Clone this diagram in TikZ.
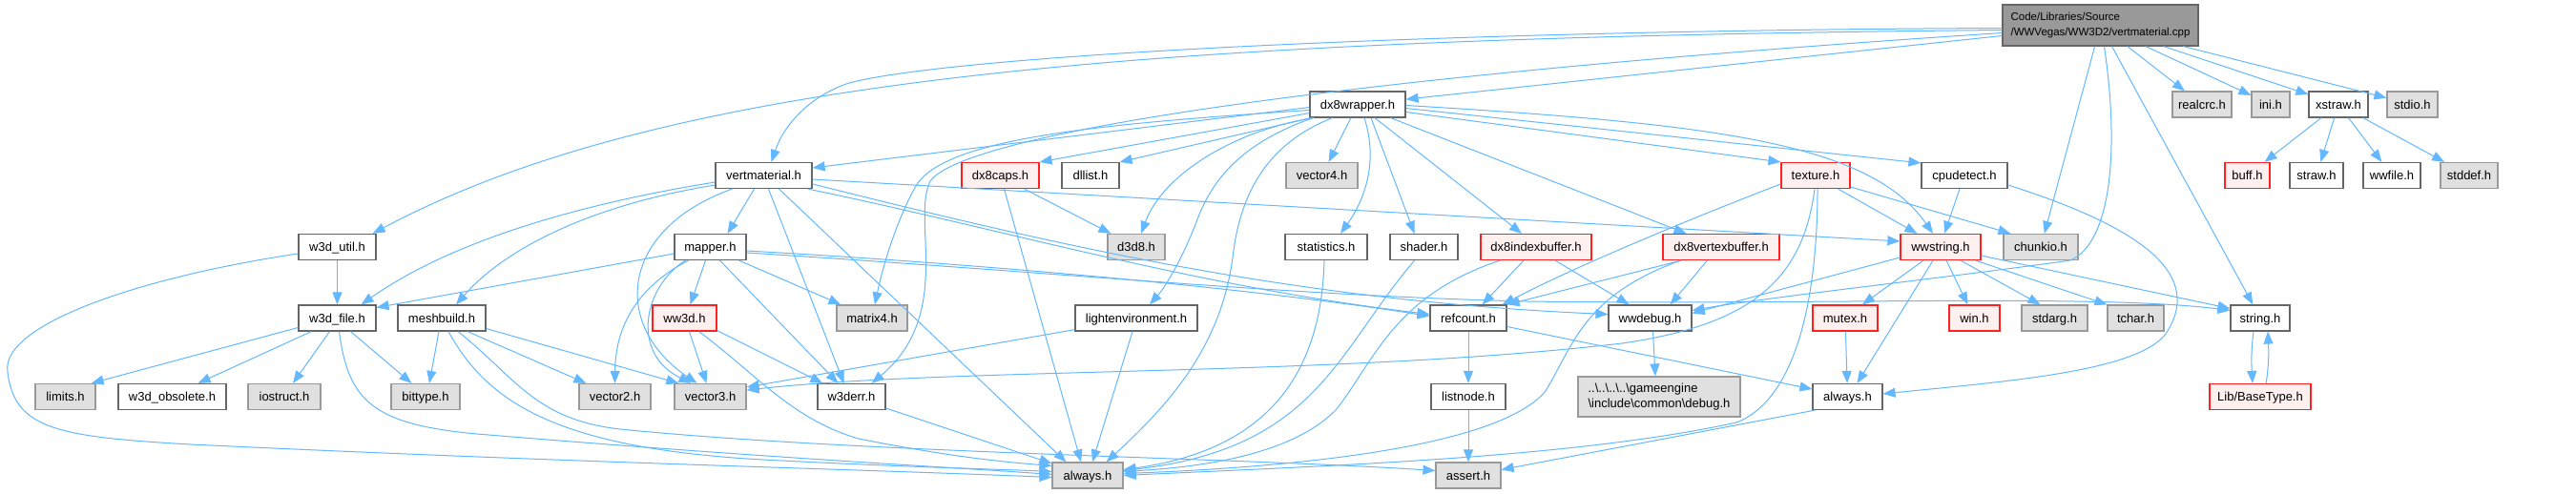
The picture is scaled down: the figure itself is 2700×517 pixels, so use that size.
\documentclass[tikz,border=0pt]{standalone}
\usepackage{fontspec}
\setmainfont{Liberation Sans}
\usetikzlibrary{arrows.meta,calc}
\definecolor{edgec}{HTML}{63B8FF}
\definecolor{wborder}{HTML}{666666}
\definecolor{gborder}{HTML}{999999}
\definecolor{gfill}{HTML}{E0E0E0}
\definecolor{rfill}{HTML}{FFF0F0}
\definecolor{rborder}{HTML}{FF2020}
\definecolor{mainfill}{HTML}{999999}
\tikzset{
  nbase/.style={rectangle, line width=1.2pt, minimum height=27pt, inner sep=0pt,
    font=\fontsize{13}{16}\selectfont},
  nb/.style={nbase, text height=11pt, text depth=2pt},
  wn/.style={nb, draw=wborder, fill=white},
  gn/.style={nb, draw=gborder, fill=gfill},
  rn/.style={nb, draw=rborder, fill=rfill},
  mainn/.style={nbase, draw=wborder, fill=mainfill, align=left, minimum height=43pt,
    font=\fontsize{11.5}{16}\selectfont},
  e/.style={draw=edgec, line width=1pt, -{Triangle[length=13pt,width=10pt]}}
}
\begin{document}
\begin{tikzpicture}[x=1pt,y=-1pt]
\useasboundingbox[fill=white] (0,0) rectangle (2700,517);
% ---------- nodes ----------
\node[mainn, minimum width=205pt] (main) at (2201.5,26.5) {Code/Libraries/Source\\/WWVegas/WW3D2/vertmaterial.cpp};
\node[wn, minimum width=100pt] (dx8wrapper) at (1423,109.5) {dx8wrapper.h};
\node[gn, minimum width=62pt] (realcrc) at (2308,109.5) {realcrc.h};
\node[gn, minimum width=40pt] (ini) at (2380,109.5) {ini.h};
\node[wn, minimum width=62pt] (xstraw) at (2451,109.5) {xstraw.h};
\node[gn, minimum width=53pt] (stdio) at (2528.5,109.5) {stdio.h};
\node[wn, minimum width=101pt] (vertmaterial) at (800.5,184) {vertmaterial.h};
\node[rn, minimum width=81pt] (dx8caps) at (1048.5,184) {dx8caps.h};
\node[wn, minimum width=60pt] (dllist) at (1143,184) {dllist.h};
\node[gn, minimum width=75pt] (vector4) at (1385.5,184) {vector4.h};
\node[rn, minimum width=72pt] (texture) at (1903,184) {texture.h};
\node[wn, minimum width=90pt] (cpudetect) at (2059,184) {cpudetect.h};
\node[rn, minimum width=47pt] (buff) at (2355.5,184) {buff.h};
\node[wn, minimum width=56pt] (straw) at (2428,184) {straw.h};
\node[wn, minimum width=60pt] (wwfile) at (2507,184) {wwfile.h};
\node[gn, minimum width=60pt] (stddef) at (2588,184) {stddef.h};
\node[wn, minimum width=81pt] (w3dutil) at (353.5,259) {w3d\_util.h};
\node[wn, minimum width=75pt] (mapper) at (744.5,259) {mapper.h};
\node[gn, minimum width=60pt] (d3d8) at (1191,259) {d3d8.h};
\node[wn, minimum width=86pt] (statistics) at (1390,259) {statistics.h};
\node[wn, minimum width=71pt] (shader) at (1492.5,259) {shader.h};
\node[rn, minimum width=116pt] (dx8indexbuffer) at (1610,259) {dx8indexbuffer.h};
\node[rn, minimum width=122pt] (dx8vertexbuffer) at (1804,259) {dx8vertexbuffer.h};
\node[rn, minimum width=84pt] (wwstring) at (2034,259) {wwstring.h};
\node[gn, minimum width=78pt] (chunkio) at (2139,259) {chunkio.h};
\node[wn, minimum width=81pt] (w3dfile) at (353.5,333.5) {w3d\_file.h};
\node[wn, minimum width=92pt] (meshbuild) at (463,333.5) {meshbuild.h};
\node[rn, minimum width=67pt] (ww3d) at (717.5,333.5) {ww3d.h};
\node[gn, minimum width=74pt] (matrix4) at (914,333.5) {matrix4.h};
\node[wn, minimum width=128pt] (lightenvironment) at (1191,333.5) {lightenvironment.h};
\node[wn, minimum width=80pt] (refcount) at (1539,333.5) {refcount.h};
\node[wn, minimum width=87pt] (wwdebug) at (1729.5,333.5) {wwdebug.h};
\node[rn, minimum width=68pt] (mutex) at (1934,333.5) {mutex.h};
\node[rn, minimum width=53pt] (win) at (2069.5,333.5) {win.h};
\node[gn, minimum width=69pt] (stdarg) at (2153.5,333.5) {stdarg.h};
\node[gn, minimum width=59pt] (tchar) at (2238.5,333.5) {tchar.h};
\node[wn, minimum width=62pt] (string) at (2369,333.5) {string.h};
\node[gn, minimum width=63pt] (limits) at (68.5,416) {limits.h};
\node[wn, minimum width=113pt] (w3dobsolete) at (180.5,416) {w3d\_obsolete.h};
\node[gn, minimum width=76pt] (iostruct) at (298,416) {iostruct.h};
\node[gn, minimum width=72pt] (bittype) at (446,416) {bittype.h};
\node[gn, minimum width=75pt] (vector2) at (644.5,416) {vector2.h};
\node[gn, minimum width=75pt] (vector3) at (744.5,416) {vector3.h};
\node[wn, minimum width=71pt] (w3derr) at (892.5,416) {w3derr.h};
\node[wn, minimum width=78pt] (listnode) at (1539,416) {listnode.h};
\node[nbase, draw=gborder, fill=gfill, align=left, minimum width=170pt, minimum height=42pt] (debug) at (1739,416) {..\textbackslash..\textbackslash..\textbackslash..\textbackslash gameengine\\\textbackslash include\textbackslash common\textbackslash debug.h};
\node[wn, minimum width=73pt] (alwaysw) at (1936.5,416) {always.h};
\node[rn, minimum width=106pt] (LibBaseType) at (2369,416) {Lib/BaseType.h};
\node[gn, minimum width=74pt] (alwaysg) at (1140,498.5) {always.h};
\node[gn, minimum width=68pt] (assert) at (1539,498.5) {assert.h};
% ---------- edges from main ----------
\draw[e] ($(main.west)+(0,3)$) .. controls (1500,32) and (1000,58) .. (890,87) .. controls (850,100) and (822,130) .. ($(vertmaterial.north)+(8,0)$);
\draw[e] ($(main.west)+(0,5)$) .. controls (1200,40) and (700,80) .. ($(w3dutil.north east)+(-4,0)$);
\draw[e] (main) -- (dx8wrapper);
\draw[e] ($(main.west)+(0,8)$) .. controls (1400,80) and (1010,140) .. (975,190) .. controls (955,230) and (1000,330) .. ($(w3derr.north east)+(-15,0)$);
\draw[e] (main) -- (chunkio);
\draw[e] ($(main.south)+(4,0)$) .. controls (2222,160) and (2212,255) .. (2170,273) .. controls (2050,290) and (1850,312) .. ($(wwdebug.east)+(0,-8)$);
\draw[e] (main) -- (string);
\draw[e] (main) -- (realcrc);
\draw[e] (main) -- (ini);
\draw[e] (main) -- (xstraw);
\draw[e] (main) -- (stdio);
% ---------- dx8wrapper ----------
\draw[e] ($(dx8wrapper.west)+(0,3)$) -- ($(vertmaterial.east)+(0,-8)$);
\draw[e] ($(dx8wrapper.west)+(0,9)$) -- (dx8caps.north east);
\draw[e] ($(dx8wrapper.south west)+(2,0)$) -- (dllist.north east);
\draw[e] ($(dx8wrapper.south west)+(5,0)$) .. controls (1300,135) and (1220,180) .. ($(d3d8.north)+(5,0)$);
\draw[e] ($(dx8wrapper.west)+(0,6)$) .. controls (1150,130) and (990,145) .. (960,195) .. controls (940,230) and (925,280) .. ($(matrix4.north)+(3,0)$);
\draw[e] ($(dx8wrapper.south west)+(4,0)$) .. controls (1300,150) and (1270,190) .. (1255,230) .. controls (1240,270) and (1222,300) .. ($(lightenvironment.north)+(14,0)$);
\draw[e] ($(dx8wrapper.south west)+(24,0)$) .. controls (1330,150) and (1300,200) .. (1292,270) .. controls (1280,360) and (1230,420) .. ($(alwaysg.north east)+(-18,0)$);
\draw[e] (dx8wrapper) -- (vector4);
\draw[e] ($(dx8wrapper.south)+(7,0)$) .. controls (1445,170) and (1430,210) .. ($(statistics.north)+(15,0)$);
\draw[e] ($(dx8wrapper.south)+(14,0)$) -- ($(shader.north)+(-10,0)$);
\draw[e] ($(dx8wrapper.south)+(18,0)$) -- ($(dx8indexbuffer.north)+(-15,0)$);
\draw[e] ($(dx8wrapper.south east)+(-16,0)$) -- ($(dx8vertexbuffer.north west)+(25,0)$);
\draw[e] ($(dx8wrapper.east)+(0,8)$) -- (texture.north west);
\draw[e] ($(dx8wrapper.east)+(0,4)$) -- ($(cpudetect.north west)+(0,1)$);
\draw[e] ($(dx8wrapper.east)+(0,1)$) .. controls (1800,130) and (1960,150) .. ($(wwstring.north)+(-8,0)$);
% ---------- vertmaterial ----------
\draw[e] ($(vertmaterial.south)+(-10,0)$) -- ($(mapper.north)+(18,0)$);
\draw[e] ($(vertmaterial.west)+(0,10)$) .. controls (620,215) and (530,260) .. ($(meshbuild.north)+(15,0)$);
\draw[e] ($(vertmaterial.west)+(0,7)$) .. controls (600,215) and (470,255) .. ($(w3dfile.north east)+(-16,0)$);
\draw[e] ($(vertmaterial.south)+(-33,0)$) .. controls (650,240) and (640,340) .. ($(vector3.north)+(-14,0)$);
\draw[e] ($(vertmaterial.south)+(5,0)$) -- ($(w3derr.north)+(-8,0)$);
\draw[e] ($(vertmaterial.south)+(16,0)$) -- ($(alwaysg.north west)+(15,0)$);
\draw[e] ($(vertmaterial.east)+(0,4)$) -- ($(wwstring.west)+(0,-6)$);
\draw[e] ($(vertmaterial.south east)+(-5,0)$) .. controls (1050,240) and (1250,300) .. ($(refcount.west)+(0,-4)$);
\draw[e] ($(vertmaterial.east)+(0,9)$) .. controls (1100,255) and (1350,315) .. ($(wwdebug.west)+(0,-4)$);
% ---------- mapper ----------
\draw[e] ($(mapper.south)+(-5,0)$) -- ($(ww3d.north)+(6,0)$);
\draw[e] ($(mapper.south west)+(15,0)$) .. controls (670,300) and (645,340) .. (vector2.north);
\draw[e] ($(mapper.south west)+(12,0)$) .. controls (675,300) and (660,370) .. ($(vector3.north)+(-20,0)$);
\draw[e] ($(mapper.south east)+(-8,0)$) -- ($(matrix4.north west)+(5,0)$);
\draw[e] ($(mapper.south)+(10,0)$) -- ($(w3derr.north)+(-14,0)$);
\draw[e] ($(mapper.west)+(0,7)$) -- ($(w3dfile.east)+(0,-11)$);
\draw[e] ($(mapper.east)+(0,4)$) .. controls (1000,275) and (1300,300) .. ($(refcount.west)+(0,-2)$);
\draw[e] ($(mapper.east)+(0,6)$) .. controls (1100,285) and (1350,310) .. (1600,316) .. controls (1900,320) and (2200,308) .. ($(string.west)+(0,-8)$);
% ---------- meshbuild ----------
\draw[e] ($(meshbuild.south)+(-3,0)$) -- ($(bittype.north)+(4,0)$);
\draw[e] ($(meshbuild.south)+(27,0)$) -- ($(vector2.north west)+(8,0)$);
\draw[e] ($(meshbuild.east)+(0,11)$) -- ($(vector3.north west)+(5,0)$);
\draw[e] ($(meshbuild.south)+(7,0)$) .. controls (510,420) and (580,470) .. (800,482) .. controls (950,490) and (1050,492) .. ($(alwaysg.west)+(0,-4)$);
\draw[e] ($(meshbuild.south)+(17,0)$) .. controls (540,395) and (560,440) .. (650,450) .. controls (900,475) and (1300,480) .. ($(assert.west)+(0,-5)$);
% ---------- w3d_file / w3d_util ----------
\draw[e] ($(w3dfile.west)+(0,10)$) -- ($(limits.north east)+(-5,0)$);
\draw[e] ($(w3dfile.south west)+(14,0)$) -- ($(w3dobsolete.north east)+(-30,0)$);
\draw[e] ($(w3dfile.south)+(-8,0)$) -- ($(iostruct.north)+(9,0)$);
\draw[e] ($(w3dfile.south)+(14,0)$) -- ($(bittype.north west)+(22,0)$);
\draw[e] ($(w3dfile.south)+(2,0)$) .. controls (365,420) and (390,445) .. (500,455) .. controls (800,480) and (1000,490) .. ($(alwaysg.west)+(0,-1)$);
\draw[e] (w3dutil) -- (w3dfile);
\draw[e] ($(w3dutil.west)+(0,7)$) .. controls (150,290) and (0,340) .. (8,390) .. controls (15,450) and (60,458) .. (200,466) .. controls (600,485) and (900,492) .. ($(alwaysg.west)+(0,2)$);
% ---------- ww3d / w3derr ----------
\draw[e] ($(ww3d.south)+(5,0)$) -- ($(vector3.north)+(-4,0)$);
\draw[e] ($(ww3d.south east)+(0,-1)$) -- ($(w3derr.north west)+(6,0)$);
\draw[e] ($(ww3d.south)+(15,0)$) .. controls (790,390) and (830,440) .. (900,460) .. controls (1000,480) and (1060,485) .. ($(alwaysg.north west)+(0,4)$);
\draw[e] (w3derr) -- (alwaysg);
% ---------- dx8caps / lightenvironment ----------
\draw[e] ($(dx8caps.south east)+(-16,0)$) -- ($(d3d8.north west)+(4,0)$);
\draw[e] ($(dx8caps.south)+(4,0)$) -- ($(alwaysg.north)+(-7,0)$);
\draw[e] ($(lightenvironment.south west)+(0,-2)$) -- ($(vector3.east)+(0,-10)$);
\draw[e] ($(lightenvironment.south)+(-4,0)$) -- ($(alwaysg.north)+(5,0)$);
% ---------- statistics / shader ----------
\draw[e] ($(statistics.south)+(-2,0)$) .. controls (1385,380) and (1340,470) .. ($(alwaysg.east)+(0,-6)$);
\draw[e] ($(shader.south)+(-10,0)$) .. controls (1400,370) and (1380,470) .. ($(alwaysg.east)+(0,-5)$);
% ---------- dx8indexbuffer / dx8vertexbuffer ----------
\draw[e] ($(dx8indexbuffer.south)+(-13,0)$) -- ($(refcount.north east)+(-26,0)$);
\draw[e] ($(dx8indexbuffer.south)+(20,0)$) -- ($(wwdebug.north)+(-22,0)$);
\draw[e] ($(dx8indexbuffer.south west)+(21,0)$) .. controls (1460,310) and (1440,380) .. (1400,430) .. controls (1350,480) and (1250,490) .. ($(alwaysg.east)+(0,-4)$);
\draw[e] ($(dx8vertexbuffer.south west)+(20,0)$) -- (refcount.north east);
\draw[e] ($(dx8vertexbuffer.south west)+(47,0)$) -- ($(wwdebug.north east)+(-23,0)$);
\draw[e] ($(dx8vertexbuffer.south west)+(19,0)$) .. controls (1660,310) and (1650,360) .. (1620,410) .. controls (1570,470) and (1350,490) .. ($(alwaysg.east)+(0,-2)$);
% ---------- texture ----------
\draw[e] ($(texture.south east)+(-13,0)$) -- ($(wwstring.north west)+(18,0)$);
\draw[e] ($(texture.east)+(0,12)$) -- ($(chunkio.north west)+(8,0)$);
\draw[e] ($(texture.west)+(0,9)$) .. controls (1770,230) and (1650,280) .. ($(refcount.north east)+(-5,0)$);
\draw[e] ($(texture.south)+(-1,0)$) .. controls (1890,290) and (1840,340) .. (1700,360) .. controls (1400,395) and (1000,385) .. ($(vector3.east)+(0,-7)$);
\draw[e] ($(texture.south)+(2,0)$) .. controls (1905,320) and (1880,420) .. (1820,443) .. controls (1650,480) and (1400,488) .. (alwaysg.east);
% ---------- cpudetect ----------
\draw[e] ($(cpudetect.south)+(-5,0)$) -- ($(wwstring.north)+(4,0)$);
\draw[e] ($(cpudetect.east)+(0,10)$) .. controls (2250,240) and (2310,290) .. (2270,350) .. controls (2240,390) and (2100,400) .. ($(alwaysw.east)+(0,-3)$);
% ---------- wwstring ----------
\draw[e] ($(wwstring.south)+(-18,0)$) -- ($(mutex.north)+(18,0)$);
\draw[e] ($(wwstring.south)+(-8,0)$) -- ($(alwaysw.north)+(10,0)$);
\draw[e] ($(wwstring.south)+(6,0)$) -- ($(win.north)+(-7,0)$);
\draw[e] ($(wwstring.south)+(21,0)$) -- ($(stdarg.north)+(-15,0)$);
\draw[e] ($(wwstring.south east)+(-6,0)$) -- (tchar.north west);
\draw[e] ($(wwstring.east)+(0,9)$) -- ($(string.west)+(0,-10)$);
\draw[e] ($(wwstring.west)+(0,11)$) -- ($(wwdebug.east)+(0,-5)$);
% ---------- remaining ----------
\draw[e] (mutex) -- (alwaysw);
\draw[e] (refcount) -- (listnode);
\draw[e] ($(refcount.east)+(0,9)$) -- ($(alwaysw.west)+(0,-8)$);
\draw[e] (listnode) -- (assert);
\draw[e] ($(wwdebug.south)+(3,0)$) -- ($(debug.north)+(-4,0)$);
\draw[e] ($(alwaysw.south west)+(3,0)$) -- ($(assert.east)+(0,-6)$);
\draw[e] (xstraw) -- (buff);
\draw[e] (xstraw) -- (straw);
\draw[e] (xstraw) -- (wwfile);
\draw[e] (xstraw) -- (stddef);
\draw[e] ($(string.south)+(-7,0)$) .. controls (2359,370) and (2360,385) .. ($(LibBaseType.north)+(-8,0)$);
\draw[e] ($(LibBaseType.north)+(6,0)$) .. controls (2378,385) and (2378,370) .. ($(string.south)+(8,0)$);
\end{tikzpicture}
\end{document}
